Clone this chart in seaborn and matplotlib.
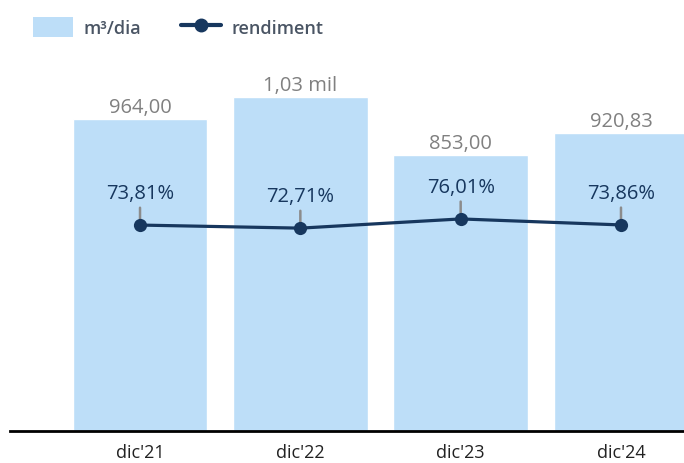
import numpy as np
import matplotlib
matplotlib.use("Agg")
import matplotlib.pyplot as plt
import seaborn as sns
from matplotlib.patches import Patch
from matplotlib.lines import Line2D

periods = ["dic'21", "dic'22", "dic'23", "dic'24"]
volume = [964.00, 1030.00, 853.00, 920.83]
rendiment = [73.81, 72.71, 76.01, 73.86]

bar_color = "#BDDEF8"
line_color = "#17375E"
label_gray = "#808080"

sns.set_theme(style="white")
plt.rcParams["font.family"] = ["Open Sans", "DejaVu Sans"]


def fmt_num(v):
    if v >= 1000:
        return f"{v / 1000:.2f}".replace(".", ",") + " mil"
    return f"{v:.2f}".replace(".", ",")


def fmt_pct(v):
    return f"{v:.2f}".replace(".", ",") + "%"


fig = plt.figure(figsize=(6.84, 4.64), dpi=100)
ax = fig.add_axes([10 / 684, 32 / 464, 674 / 684, 392 / 464])

sns.barplot(x=periods, y=volume, color=bar_color, width=0.84, saturation=1, ax=ax)
ax.set_ylim(0, 1210)
ax.set_xlim(-0.811, 3.393)

for i, v in enumerate(volume):
    ax.annotate(fmt_num(v), (i, v), xytext=(0, 2), textcoords="offset pixels",
                ha="center", va="bottom", fontsize=14.5, color=label_gray)

ax2 = ax.twinx()
x_pos = np.arange(len(periods))
sns.lineplot(x=x_pos, y=rendiment, color=line_color, lw=2.3, marker="o",
             markersize=9.5, markeredgewidth=0, ax=ax2, zorder=5)
ax2.set_ylim(0, 140.5)

for i, v in enumerate(rendiment):
    ax2.annotate(fmt_pct(v), (i, v), xytext=(0, 22), textcoords="offset pixels",
                 ha="center", va="bottom", fontsize=14.5, color=line_color,
                 arrowprops=dict(arrowstyle="-", color="#8c8c8c", lw=1.8,
                                 shrinkA=1, shrinkB=0), zorder=3)

for a in (ax, ax2):
    for s in ["top", "right", "left"]:
        a.spines[s].set_visible(False)
    a.set_yticks([])
    a.set_ylabel("")
ax2.spines["bottom"].set_visible(False)
ax.spines["bottom"].set_color("black")
ax.spines["bottom"].set_linewidth(2)
ax.set_xticks(x_pos)
ax.set_xticklabels(periods, fontsize=13, color="#222222")
ax.tick_params(axis="x", length=0, pad=9)

handles = [Patch(facecolor=bar_color, edgecolor="none", label="m³/dia"),
           Line2D([], [], color=line_color, lw=3, marker="o", markersize=9,
                  label="rendiment")]
fig.legend(handles=handles, loc="upper left", bbox_to_anchor=(0.022, 1.0),
           ncol=2, frameon=False, prop={"size": 13, "weight": "semibold"},
           labelcolor="#4a5564", handlelength=2.2, handleheight=1.3,
           columnspacing=2.2, handletextpad=0.6, borderaxespad=0.6)

fig.savefig("out.png", dpi=100)
